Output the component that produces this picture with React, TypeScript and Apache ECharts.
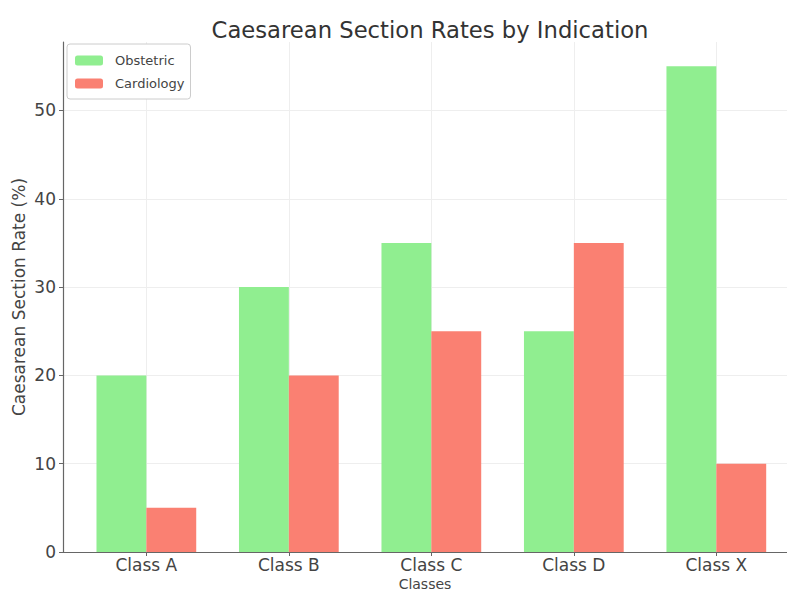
import React, { useEffect, useRef } from "react";
import * as echarts from "echarts";

const categories = ["Class A", "Class B", "Class C", "Class D", "Class X"];
const obstetric = [20, 30, 35, 25, 55];
const cardiology = [5, 20, 25, 35, 10];
const yTicks = [0, 10, 20, 30, 40, 50];

export default function App() {
  const ref = useRef<HTMLDivElement>(null);
  useEffect(() => {
    const chart = echarts.init(ref.current!, null, { renderer: "svg" });
    const font = "DejaVu Sans";
    const positions = categories.map((_, i) => i);
    chart.setOption({
      animation: false,
      textStyle: { fontFamily: font },
      title: {
        text: "Caesarean Section Rates by Indication",
        left: 425,
        textAlign: "center",
        top: 13,
        textStyle: { fontFamily: font, fontSize: 22.7, fontWeight: "normal", color: "#333" },
      },
      legend: {
        orient: "vertical",
        left: 67,
        top: 44,
        itemWidth: 28,
        itemHeight: 10,
        itemGap: 10,
        padding: [10, 6, 9, 8],
        borderColor: "#ccc",
        borderWidth: 1,
        borderRadius: 3,
        backgroundColor: "#fff",
        textStyle: { fontFamily: font, fontSize: 13, color: "#444", padding: [0, 0, 0, 7] },
        data: ["Obstetric", "Cardiology"],
      },
      grid: { left: 63, top: 42, right: 0, height: 510, containLabel: false, outerBoundsMode: "none" },
      xAxis: {
        type: "value",
        min: -0.585,
        max: 4.496,
        name: "Classes",
        nameLocation: "middle",
        nameMoveOverlap: false,
        nameGap: 25,
        nameTextStyle: { fontFamily: font, fontSize: 14, color: "#444", lineHeight: 14 },
        axisLine: { lineStyle: { color: "#666", width: 1.2 } },
        axisTick: { customValues: positions, length: 4, lineStyle: { color: "#666" } },
        axisLabel: {
          customValues: positions,
          formatter: (v: number) => categories[Math.round(v)] ?? "",
          fontFamily: font,
          fontSize: 17,
          color: "#444",
          margin: 4,
          lineHeight: 17,
        },
        splitLine: { show: true, lineStyle: { color: "#eee", width: 1 } },
      },
      yAxis: {
        type: "value",
        min: 0,
        max: 57.75,
        interval: 10,
        name: "Caesarean Section Rate (%)",
        nameLocation: "middle",
        nameMoveOverlap: false,
        nameGap: 36,
        nameTextStyle: { fontFamily: font, fontSize: 17, color: "#444" },
        axisLine: { show: true, onZero: false, lineStyle: { color: "#666", width: 1.2 } },
        axisTick: { show: true, length: 4, customValues: yTicks, lineStyle: { color: "#666" } },
        axisLabel: { customValues: yTicks, fontFamily: font, fontSize: 17, color: "#444", margin: 7 },
        splitLine: { show: true, lineStyle: { color: "#eee", width: 1 } },
      },
      series: [
        {
          name: "Obstetric",
          type: "bar",
          data: obstetric.map((v, i) => [positions[i], v]),
          barWidth: "35%",
          barGap: "0%",
          itemStyle: { color: "#90EE90" },
        },
        {
          name: "Cardiology",
          type: "bar",
          data: cardiology.map((v, i) => [positions[i], v]),
          barWidth: "35%",
          barGap: "0%",
          itemStyle: { color: "#FA8072" },
        },
      ],
    });
    return () => chart.dispose();
  }, []);
  return <div ref={ref} style={{ width: 787, height: 592, position: "absolute", left: 0, top: 0 }} />;
}
